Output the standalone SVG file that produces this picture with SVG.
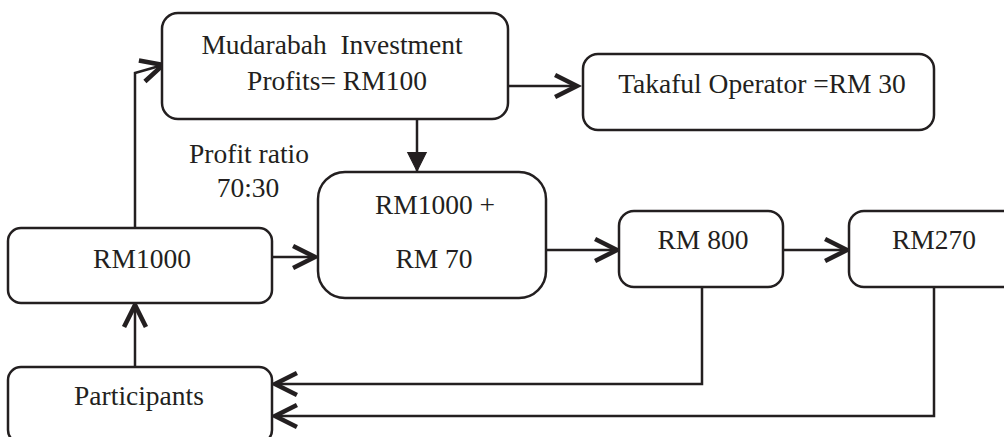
<svg xmlns="http://www.w3.org/2000/svg" width="1004" height="437" viewBox="0 0 1004 437">
<style>
.box{fill:#fff;stroke:#231f20;stroke-width:2.5}
.t{font-family:"Liberation Serif","Times New Roman",serif;font-size:27.5px;fill:#231f20;text-anchor:middle}
.c{fill:none;stroke:#231f20;stroke-width:2.5}
</style>
<defs>
<marker id="open" markerUnits="userSpaceOnUse" markerWidth="30" markerHeight="30" viewBox="-22 -12 26 24" refX="0" refY="0" orient="auto">
<path d="M-19,-9.5 L0,0 L-19,9.5" fill="none" stroke="#231f20" stroke-width="4"/>
</marker>
<marker id="fill" markerUnits="userSpaceOnUse" markerWidth="30" markerHeight="30" viewBox="-22 -12 26 24" refX="0" refY="0" orient="auto">
<path d="M-16,-8 L0,0 L-16,8 Z" fill="#231f20" stroke="#231f20" stroke-width="1"/>
</marker>
</defs>
<rect width="1004" height="437" fill="#fff"/>
<g id="connectors">
<path class="c" d="M135,228 L135,73 L163,65" marker-end="url(#open)"/>
<path class="c" d="M508,86 L577,86" marker-end="url(#open)"/>
<path class="c" d="M417,119 L417,171" marker-end="url(#fill)"/>
<path class="c" d="M272,257 L315,257" marker-end="url(#open)"/>
<path class="c" d="M542,250 L617,250" marker-end="url(#open)"/>
<path class="c" d="M783,250 L847,250" marker-end="url(#open)"/>
<path class="c" d="M135,367 L135,305" marker-end="url(#open)"/>
<path class="c" d="M702,287 L702,384 L275,384" marker-end="url(#open)"/>
<path class="c" d="M934,287 L934,416 L275,416" marker-end="url(#open)"/>
</g>
<g id="mudarabah">
<rect class="box" x="162" y="13" width="346" height="106" rx="16"/>
<text class="t" x="332" y="54" xml:space="preserve" style="white-space:pre">Mudarabah  Investment</text>
<text class="t" x="337" y="90">Profits= RM100</text>
</g>
<g id="takaful">
<rect class="box" x="583" y="54" width="351" height="76" rx="15"/>
<text class="t" x="762" y="93">Takaful Operator =RM 30</text>
</g>
<g id="ratio-label">
<text class="t" x="249" y="163">Profit ratio</text>
<text class="t" x="248" y="197">70:30</text>
</g>
<g id="sum">
<rect class="box" x="318" y="172" width="228" height="126" rx="27"/>
<text class="t" x="435" y="214">RM1000 +</text>
<text class="t" x="434" y="268">RM 70</text>
</g>
<g id="rm1000">
<rect class="box" x="8" y="228" width="264" height="75" rx="13"/>
<text class="t" x="142" y="268">RM1000</text>
</g>
<g id="rm800">
<rect class="box" x="619" y="211" width="164" height="76" rx="15"/>
<text class="t" x="703" y="249">RM 800</text>
</g>
<g id="rm270">
<rect class="box" x="849" y="211" width="170" height="76" rx="15"/>
<text class="t" x="934" y="249">RM270</text>
</g>
<g id="participants">
<rect class="box" x="8" y="367" width="264" height="76" rx="13"/>
<text class="t" x="139" y="405">Participants</text>
</g>
</svg>
